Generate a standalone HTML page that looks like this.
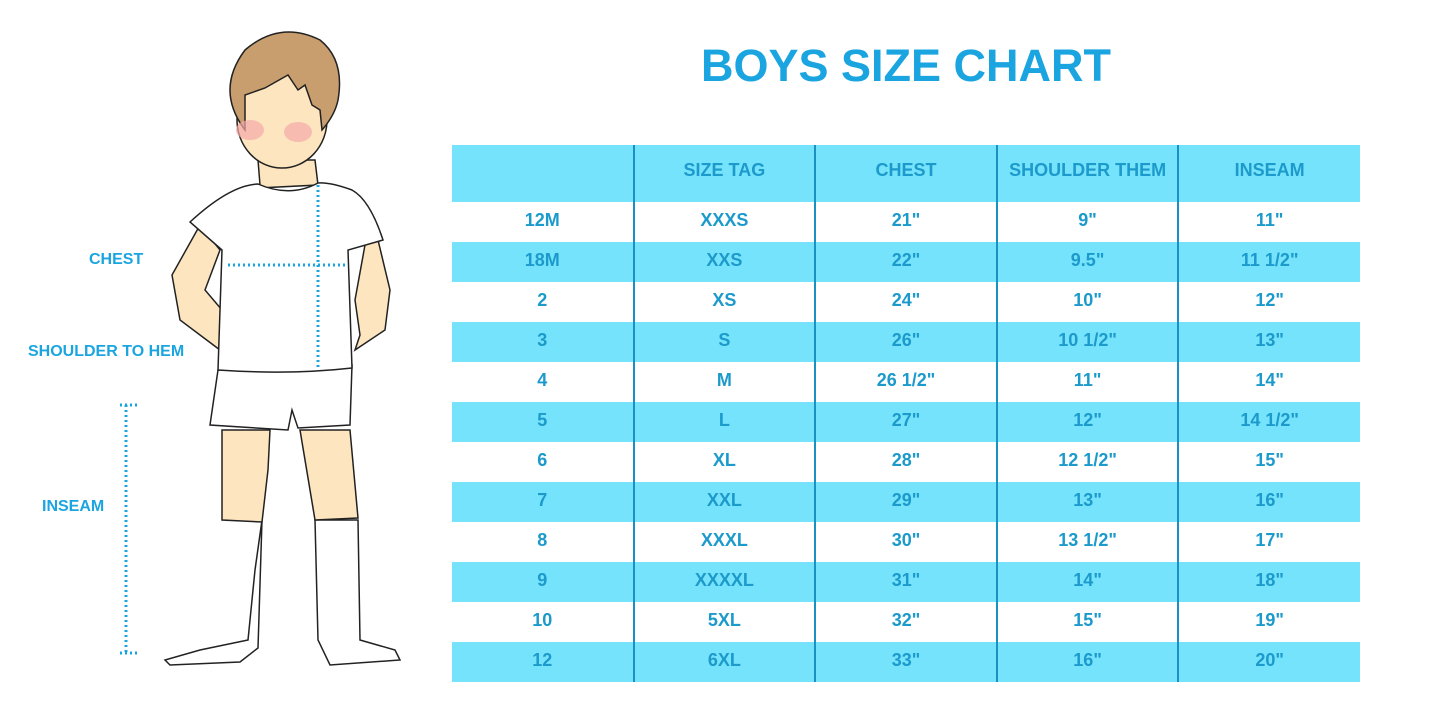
<!DOCTYPE html>
<html><head><meta charset="utf-8"><style>
body{margin:0;width:1445px;height:723px;background:#fff;position:relative;overflow:hidden;font-family:"Liberation Sans",sans-serif;}
.t{position:absolute;left:606px;width:600px;top:40px;text-align:center;font-size:45px;font-weight:bold;color:#1ba5e0;}
table{position:absolute;left:452px;top:145px;border-collapse:collapse;width:908px}
td{width:181.6px;text-align:center;font-weight:bold;font-size:18px;color:#1b9acb;height:40px;padding:0 0 3px 0;box-sizing:border-box}
tr.b td{background:#76e3fc}
tr.h td{height:57px;padding-bottom:6px}
td+td{border-left:2px solid #1a90c3}
.lab{position:absolute;font-weight:bold;font-size:16px;color:#1ba5e0}
</style></head><body>
<div class="t">BOYS SIZE CHART</div>
<svg style="position:absolute;left:0;top:0" width="450" height="723">
<g stroke="#222" stroke-width="1.5">
<path d="M255 570 L248 640 L200 650 L165 660 L170 665 L240 662 L258 648 L262 520 Z" fill="#fff"/>
<path d="M315 520 L318 640 L330 665 L400 660 L395 650 L360 640 L358 520 Z" fill="#fff"/>
<path d="M222 430 L222 520 L262 522 L268 470 L270 430 Z" fill="#fde5bf"/>
<path d="M300 430 L315 520 L358 518 L350 430 Z" fill="#fde5bf"/>
<path d="M218 370 L210 425 L288 430 L292 410 L298 428 L350 425 L352 365 Z" fill="#fff"/>
<path d="M200 225 L172 275 L180 320 L220 350 L222 310 L205 290 L220 250 Z" fill="#fde5bf"/>
<path d="M365 245 L355 300 L360 335 L355 350 L385 330 L390 290 L378 240 Z" fill="#fde5bf"/>
<path d="M258 160 L260 185 L258 188 L318 185 L315 160 Z" fill="#fde5bf"/>
<path d="M258 184 Q230 185 190 222 L222 250 L218 370 Q290 375 352 368 L348 250 L383 240 Q370 200 352 190 Q330 182 318 183 Q290 198 258 184 Z" fill="#fff"/>
<ellipse cx="282" cy="120" rx="45" ry="48" fill="#fde5bf"/>
<path d="M245 130 Q215 90 245 50 Q280 20 320 40 Q345 60 338 100 Q335 115 322 130 L320 110 L312 105 L305 85 L298 90 L288 75 L265 88 L245 95 Z" fill="#c99e6f"/>
</g>
<ellipse cx="250" cy="130" rx="14" ry="10" fill="#f3a9a9" opacity=".7"/>
<ellipse cx="298" cy="132" rx="14" ry="10" fill="#f3a9a9" opacity=".7"/>
<g stroke="#1ba5e0" stroke-width="3" stroke-dasharray="2 3" fill="none">
<line x1="228" y1="265" x2="345" y2="265"/>
<line x1="318" y1="185" x2="318" y2="368"/>
<line x1="126" y1="405" x2="126" y2="653"/>
<line x1="120" y1="405" x2="140" y2="405"/>
<line x1="120" y1="653" x2="140" y2="653"/>
</g>
</svg>
<div class="lab" style="left:89px;top:251px">CHEST</div>
<div class="lab" style="left:28px;top:343px">SHOULDER TO HEM</div>
<div class="lab" style="left:42px;top:498px">INSEAM</div>
<table>
<tr class="b h"><td></td><td>SIZE TAG</td><td>CHEST</td><td>SHOULDER THEM</td><td>INSEAM</td></tr>
<tr><td>12M</td><td>XXXS</td><td>21"</td><td>9"</td><td>11"</td></tr>
<tr class="b"><td>18M</td><td>XXS</td><td>22"</td><td>9.5"</td><td>11 1/2"</td></tr>
<tr><td>2</td><td>XS</td><td>24"</td><td>10"</td><td>12"</td></tr>
<tr class="b"><td>3</td><td>S</td><td>26"</td><td>10 1/2"</td><td>13"</td></tr>
<tr><td>4</td><td>M</td><td>26 1/2"</td><td>11"</td><td>14"</td></tr>
<tr class="b"><td>5</td><td>L</td><td>27"</td><td>12"</td><td>14 1/2"</td></tr>
<tr><td>6</td><td>XL</td><td>28"</td><td>12 1/2"</td><td>15"</td></tr>
<tr class="b"><td>7</td><td>XXL</td><td>29"</td><td>13"</td><td>16"</td></tr>
<tr><td>8</td><td>XXXL</td><td>30"</td><td>13 1/2"</td><td>17"</td></tr>
<tr class="b"><td>9</td><td>XXXXL</td><td>31"</td><td>14"</td><td>18"</td></tr>
<tr><td>10</td><td>5XL</td><td>32"</td><td>15"</td><td>19"</td></tr>
<tr class="b"><td>12</td><td>6XL</td><td>33"</td><td>16"</td><td>20"</td></tr>
</table>
</body></html>
